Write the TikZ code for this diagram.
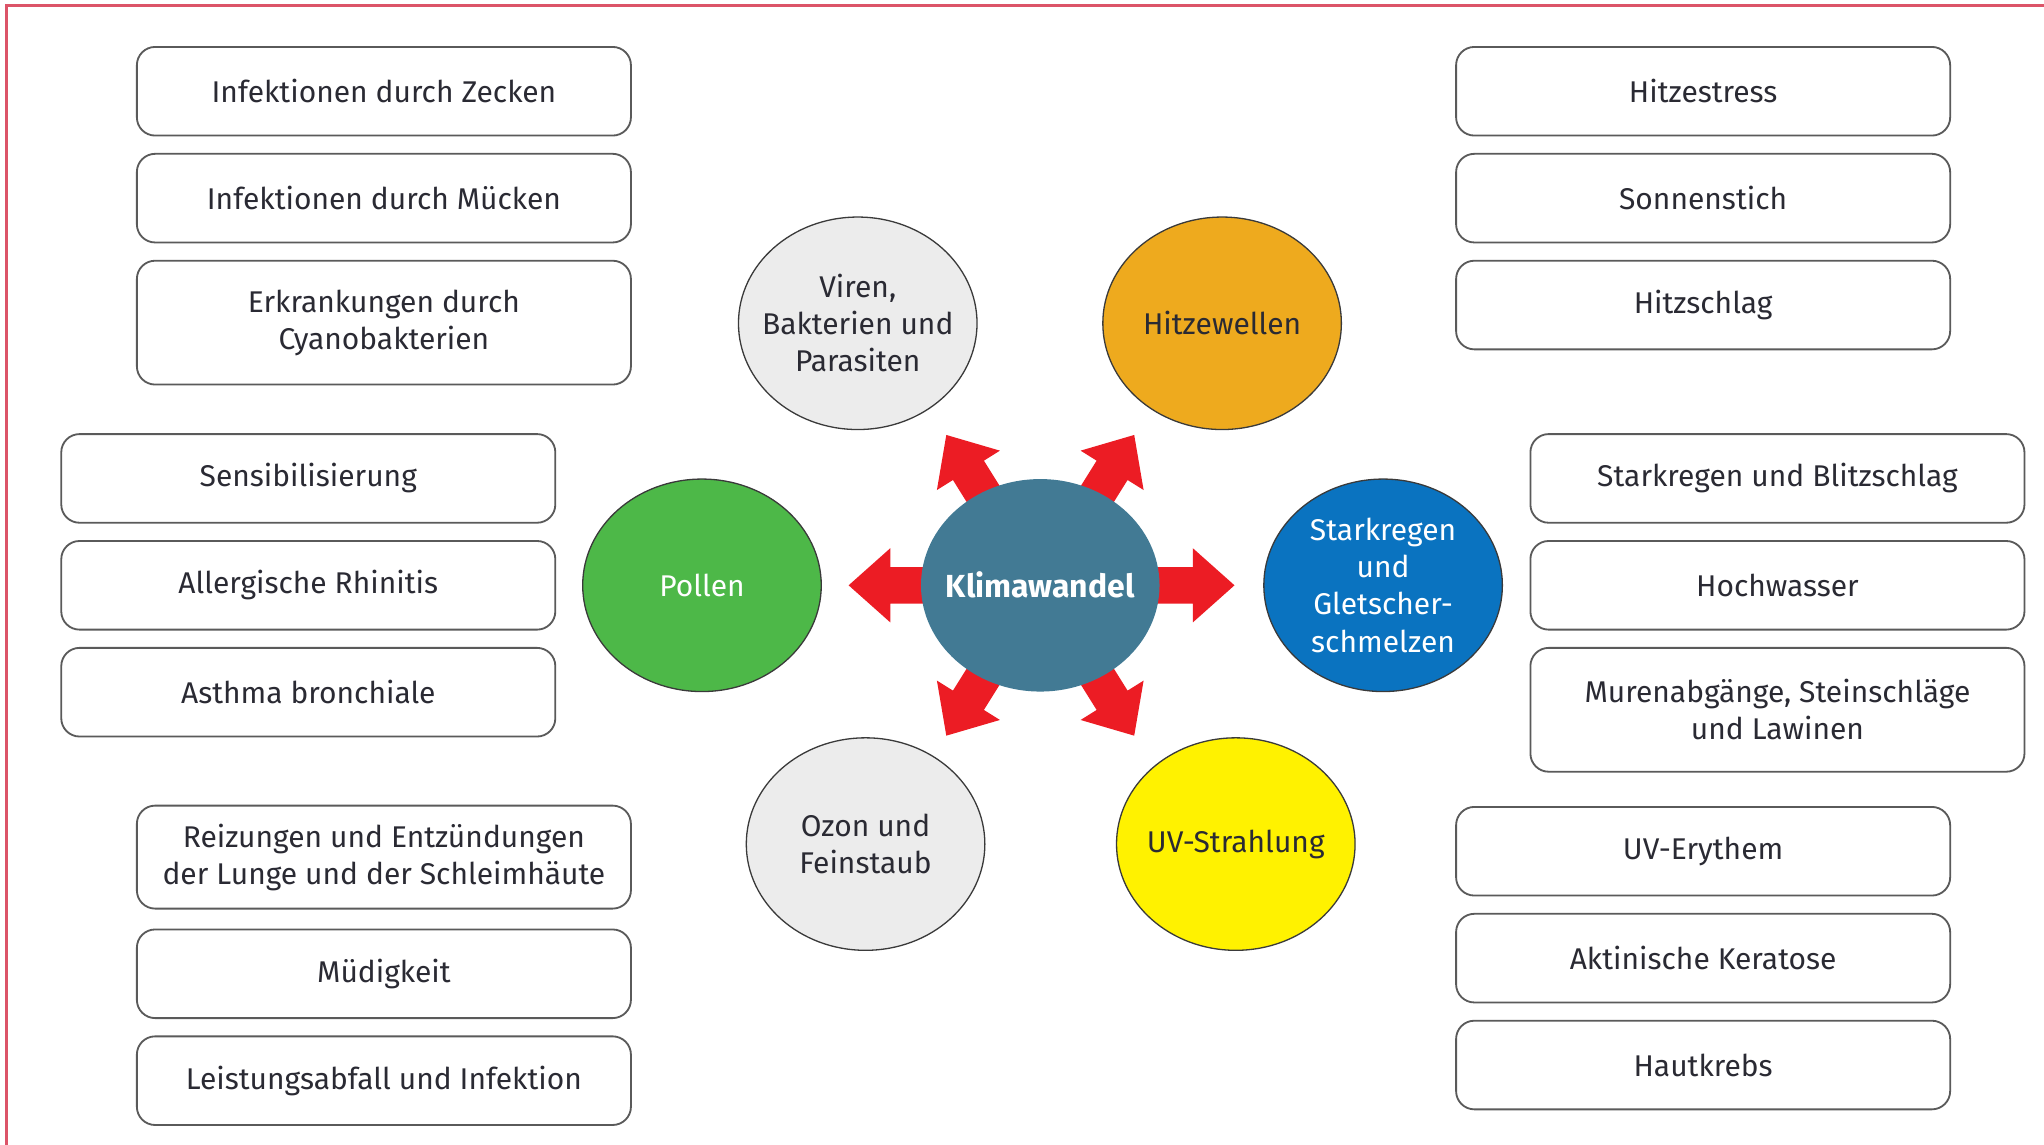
\documentclass[tikz,border=0pt]{standalone}
\usepackage{fontspec}
\setmainfont{Fira Sans}
\usetikzlibrary{shapes.geometric}
\definecolor{boxline}{HTML}{5A5A5A}
\definecolor{circline}{HTML}{3A3A3A}
\definecolor{txt}{HTML}{2A2A33}
\definecolor{frame}{HTML}{DC5468}
\definecolor{arrowred}{HTML}{EC1C24}
\definecolor{lightgray}{HTML}{ECECEC}
\definecolor{heat}{HTML}{EEAA1E}
\definecolor{pollen}{HTML}{4DB848}
\definecolor{klima}{HTML}{427A94}
\definecolor{rain}{HTML}{0A73C0}
\definecolor{uv}{HTML}{FFF200}
\begin{document}
\begin{tikzpicture}[x=1pt,y=-1pt,
  every node/.style={font=\fontsize{23}{28.5}\selectfont, text=txt},
  box/.style={draw=boxline, line width=1.4pt, rounded corners=14pt, minimum width=379pt, align=center, inner sep=0pt},
  circ/.style={ellipse, draw=circline, line width=1pt, minimum width=183pt, minimum height=163pt, inner sep=0pt},
  lab/.style={align=center, inner sep=0pt},
  redarrow/.style={fill=arrowred}
]
\useasboundingbox (0,0) rectangle (1568,878);
\fill[white] (0,0) rectangle (1568,878);
\draw[frame, line width=2pt] (5,878) -- (5,4) -- (1568,4);

% left group 1
\node[box, minimum height=68pt] (a1) at (294.5,70) {Infektionen durch Zecken};
\node[box, minimum height=68pt] (a2) at (294.5,152) {Infektionen durch Mücken};
\node[box, minimum height=95pt] (a3) at (294.5,247.5) {Erkrankungen durch\\Cyanobakterien};
% left group 2
\node[box, minimum height=68pt] (b1) at (236.5,367) {Sensibilisierung};
\node[box, minimum height=68pt] (b2) at (236.5,449) {Allergische Rhinitis};
\node[box, minimum height=68pt] (b3) at (236.5,531) {Asthma bronchiale};
% left group 3
\node[box, minimum height=79pt] (c1) at (294.5,657.5) {Reizungen und Entzündungen\\der Lunge und der Schleimhäute};
\node[box, minimum height=68pt] (c2) at (294.5,747) {Müdigkeit};
\node[box, minimum height=68pt] (c3) at (294.5,829) {Leistungsabfall und Infektion};
% right group 1
\node[box, minimum height=68pt] (d1) at (1306.5,70) {Hitzestress};
\node[box, minimum height=68pt] (d2) at (1306.5,152) {Sonnenstich};
\node[box, minimum height=68pt] (d3) at (1306.5,234) {Hitzschlag};
% right group 2
\node[box, minimum height=68pt] (e1) at (1363.5,367) {Starkregen und Blitzschlag};
\node[box, minimum height=68pt] (e2) at (1363.5,449) {Hochwasser};
\node[box, minimum height=95pt] (e3) at (1363.5,544.5) {Murenabgänge, Steinschläge\\und Lawinen};
% right group 3
\node[box, minimum height=68pt] (f1) at (1306.5,653) {UV-Erythem};
\node[box, minimum height=68pt] (f2) at (1306.5,735) {Aktinische Keratose};
\node[box, minimum height=68pt] (f3) at (1306.5,817) {Hautkrebs};

% arrows
\coordinate (kwc) at (798,449);
\foreach \a/\L in {0/149, 180/147, 58/136, 122/136, -58/136, -122/136}{
  \fill[redarrow, shift={(kwc)}, rotate=\a]
    (0,-14) -- ({\L-32},-14) -- ({\L-32},-28.5) -- (\L,0) -- ({\L-32},28.5) -- ({\L-32},14) -- (0,14) -- cycle;
}

% circles
\node[circ, fill=lightgray] (viren) at (658,248) {};
\node[lab] (virent) at (viren.center) {Viren,\\Bakterien und\\Parasiten};
\node[circ, fill=heat] (hitze) at (937.5,248) {};
\node[lab] (hitzet) at (hitze.center) {Hitzewellen};
\node[circ, fill=pollen] (pollen) at (538.5,449) {};
\node[lab, text=white] (pollent) at (pollen.center) {Pollen};
\node[ellipse, fill=klima, minimum width=183pt, minimum height=163pt, inner sep=0pt] (kw) at (kwc) {};
\node[lab, text=white, font=\fontsize{24.5}{28}\selectfont\bfseries] (kwt) at (kw.center) {Klimawandel};
\node[circ, fill=rain] (regen) at (1061,449) {};
\node[lab, text=white] (regent) at (regen.center) {Starkregen\\und\\Gletscher-\\schmelzen};
\node[circ, fill=lightgray] (ozon) at (664,647.5) {};
\node[lab] (ozont) at (ozon.center) {Ozon und\\Feinstaub};
\node[circ, fill=uv] (uvs) at (948,647.5) {};
\node[lab] (uvst) at (uvs.center) {UV-Strahlung};
\end{tikzpicture}
\end{document}
